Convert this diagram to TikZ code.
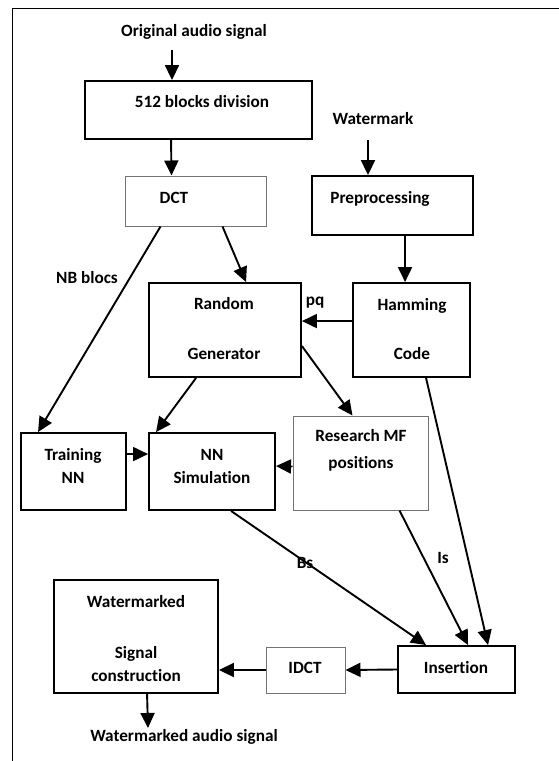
\documentclass[tikz,border=0pt]{standalone}
\usepackage{fontspec}
\setmainfont[Ligatures=NoCommon,RawFeature={-liga;-clig;-calt}]{Carlito}
\usetikzlibrary{arrows.meta,calc}
\begin{document}
\begin{tikzpicture}[x=1pt,y=-1pt,
  thickbox/.style={draw=black,line width=1.9pt,rectangle,inner sep=0pt},
  thinbox/.style={draw=black!55,line width=1pt,rectangle,inner sep=0pt},
  lbl/.style={inner sep=0pt,font=\fontsize{17.2}{19}\selectfont\bfseries,text height=0.64em,text depth=0pt,anchor=center},
  arr/.style={line width=1.9pt,-{Triangle[length=15pt,width=14pt]}},
  frame/.style={line width=1.4pt}]
\useasboundingbox (0,0) rectangle (559,761);
\draw[frame] (12.5,763) -- (12.5,8.5) -- (561,8.5);
% boxes
\node[thickbox,minimum width=227pt,minimum height=58pt] (b512) at (198.5,110) {};
\node[thinbox,minimum width=141pt,minimum height=50pt] (dct) at (195.5,201) {};
\node[thickbox,minimum width=161pt,minimum height=59pt] (pre) at (392.5,205.5) {};
\node[thickbox,minimum width=117pt,minimum height=94pt] (ham) at (411.5,330) {};
\node[thickbox,minimum width=152pt,minimum height=94pt] (rnd) at (225,330) {};
\node[thickbox,minimum width=105pt,minimum height=77pt] (trn) at (73.5,471.5) {};
\node[thickbox,minimum width=126pt,minimum height=77pt] (sim) at (212,471.5) {};
\node[thinbox,minimum width=135pt,minimum height=94pt] (res) at (360.5,463) {};
\node[thickbox,minimum width=117pt,minimum height=47pt] (ins) at (456.5,669.5) {};
\node[thinbox,minimum width=79pt,minimum height=46pt] (idct) at (305.5,670) {};
\node[thickbox,minimum width=164pt,minimum height=113pt] (wms) at (136,636.5) {};
% texts
\node[lbl] (tin) at (194,33) {Original audio signal};
\node[lbl] (t512) at (202,104) {512 blocks division};
\node[lbl] (twm) at (373,121) {Watermark};
\node[lbl] (tdct) at (174,200) {DCT};
\node[lbl] (tpre) at (380,200) {Preprocessing};
\node[lbl] (tnb) at (87,280) {NB blocs};
\node[lbl] (trnd1) at (224,306) {Random};
\node[lbl] (trnd2) at (224,356) {Generator};
\node[lbl] (tpq) at (315,302) {pq};
\node[lbl] (tham1) at (412,307) {Hamming};
\node[lbl] (tham2) at (412,356) {Code};
\node[lbl] (ttrn1) at (73,457) {Training};
\node[lbl] (ttrn2) at (73,480) {NN};
\node[lbl] (tsim1) at (212,457) {NN};
\node[lbl] (tsim2) at (212,480) {Simulation};
\node[lbl] (tres1) at (361,438) {Research MF};
\node[lbl] (tres2) at (361,465) {positions};
\node[lbl] (tbs) at (305,565) {Bs};
\node[lbl] (tis) at (443,560) {Is};
\node[lbl] (twms1) at (136,604) {Watermarked};
\node[lbl] (twms2) at (136,655) {Signal};
\node[lbl] (twms3) at (136,678) {construction};
\node[lbl] (tidct) at (305,670) {IDCT};
\node[lbl] (tins) at (456,670) {Insertion};
\node[lbl] (tout) at (184,738) {Watermarked audio signal};
% free ends
\coordinate (cin) at (172,50);
\coordinate (cwm) at (368,140);
\coordinate (cout) at (148,728);
% connectors
\draw[arr] (cin) -- (cin |- b512.north);
\draw[arr] ([xshift=87pt]b512.south west) -- ([xshift=47pt]dct.north west);
\draw[arr] (cwm) -- (cwm |- pre.north);
\draw[arr] ([xshift=94pt]pre.south west) -- ([xshift=53pt]ham.north west);
\draw[arr] ([xshift=98pt]dct.south west) -- ([xshift=98pt]rnd.north west);
\draw[arr] ([yshift=-39pt]ham.north west) -- ([yshift=-39pt]rnd.north east);
\draw[arr] ([xshift=36pt]dct.south west) -- ([xshift=18pt]trn.north west);
\draw[arr] ([xshift=48pt]rnd.south west) -- ([xshift=8pt]sim.north west);
\draw[arr] ([yshift=-64pt]rnd.north east) -- ([xshift=60pt]res.north west);
\draw[arr] ([yshift=-22pt]trn.north east) -- ([yshift=-22pt]sim.north west);
\draw[arr] ([yshift=-51pt]res.north west) -- ([yshift=-34pt]sim.north east);
\draw[arr] ([xshift=83pt]sim.south west) -- ([xshift=29pt]ins.north west);
\draw[arr] ([xshift=107pt]res.south west) -- ([xshift=71pt]ins.north west);
\draw[arr] ([xshift=74pt]ham.south west) -- ([xshift=91pt]ins.north west);
\draw[arr] (ins.west) -- (idct.east);
\draw[arr] (idct.west) -- (idct.west -| wms.east);
\draw[arr] ([xshift=94pt]wms.south west) -- (cout);
\end{tikzpicture}
\end{document}
